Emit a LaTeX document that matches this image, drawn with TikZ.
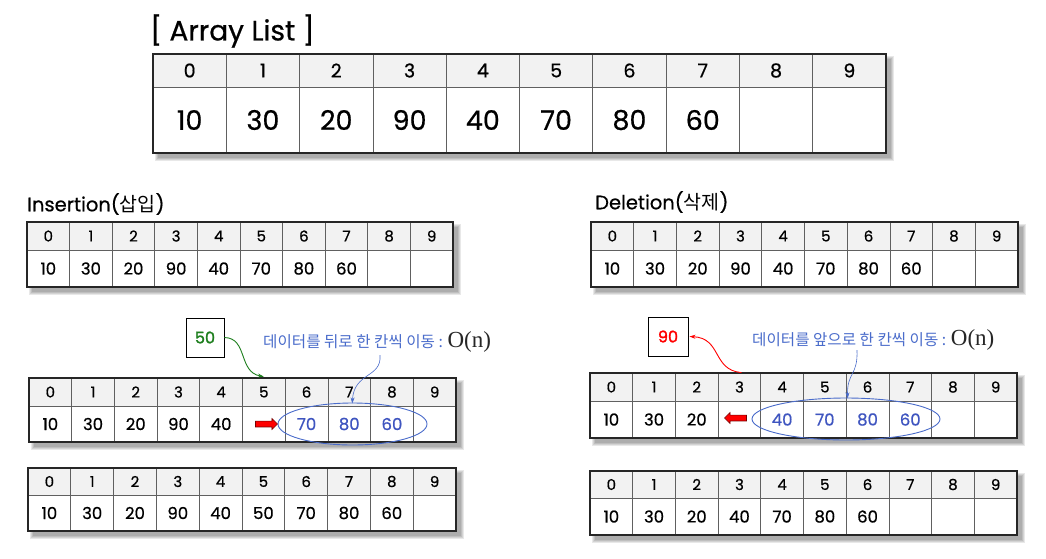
\documentclass[tikz,border=0pt]{standalone}
\usepackage{fontspec}
\setmainfont{Poppins}[FakeBold=0.6]
\newfontfamily\kr{Noto Sans CJK KR}
\newfontfamily\serif{Liberation Serif}
\usetikzlibrary{shapes.geometric,shapes.arrows,calc,arrows.meta}
\definecolor{hdr}{HTML}{F2F2F2}
\definecolor{gridc}{HTML}{606060}
\definecolor{lblue}{HTML}{4A6CCB}
\definecolor{vblue}{HTML}{3F55C0}
\definecolor{eblue}{HTML}{4A6CCB}
\definecolor{vgreen}{HTML}{1E7F1E}
\newcommand\myfs[1]{\fontsize{#1}{#1}\selectfont}
\tikzset{
  hcell/.style={draw=gridc, line width=0.8pt, fill=hdr, inner sep=0pt, text=black},
  dcell/.style={draw=gridc, line width=0.8pt, fill=white, inner sep=0pt, text=black},
  border/.style={draw=black!85, line width=1.2pt},
  valbox/.style={draw=black, line width=0.9pt, fill=white, inner sep=0pt, font=\myfs{16}\addfontfeatures{FakeBold=1.6}},
  title/.style={anchor=west, inner sep=0pt, text=black},
  lbl/.style={anchor=west, inner sep=0pt, text=lblue, font=\kr\myfs{15.6}},
  curv/.style={line width=0.9pt, -{Stealth[length=6pt,width=4pt]}},
  blockarrow/.style={single arrow, fill=red, draw=red!45!black, line width=0.6pt, minimum height=22pt, minimum width=11pt, single arrow head extend=2.5pt, inner sep=2.6pt},
  oval/.style={ellipse, draw=eblue, line width=0.9pt, inner sep=0pt}
}
% #1 name, #2 x0, #3 y0, #4 cell width, #5 header h, #6 data h, #7 values, #8 header font, #9 data font
\newcommand\arrtab[9]{%
  \pgfmathsetmacro\xend{#2+10*#4}%
  \pgfmathsetmacro\yend{#3+#5+#6}%
  \foreach \s in {0,...,3}{\fill[black,opacity=0.09] ({#2+5-\s},{#3+5-\s}) rectangle ({\xend+5+\s},{\yend+5+\s});}
  \foreach \i in {0,...,9}{%
    \node[hcell, minimum width=#4, minimum height=#5, font=#8] (#1h\i) at ({#2+(\i+0.5)*#4},{#3+#5/2}) {\i};
  }
  \foreach \v [count=\c from 0] in {#7}{%
    \node[dcell, minimum width=#4, minimum height=#6, font=#9] (#1d\c) at ({#2+(\c+0.5)*#4},{#3+#5+#6/2}) {\v};
  }
  \draw[border] (#2,#3) rectangle (\xend,\yend);
}
\begin{document}
\begin{tikzpicture}[x=1pt,y=-1pt]
\useasboundingbox[fill=white] (0,0) rectangle (1046,558);

% main table
\node[title, font=\myfs{28}] (ttl) at (150,31) {[ Array List ]};
\arrtab{m}{153}{54}{73.3}{33}{66}{10,30,20,90,40,70,80,60,{},{}}{\myfs{19}}{\myfs{27}}

% Insertion
\node[title, font=\myfs{19.5}] (tins) at (27,204) {Insertion({\kr 삽입})};
\arrtab{ia}{27}{222}{42.6}{28}{37}{10,30,20,90,40,70,80,60,{},{}}{\myfs{15}}{\myfs{16.5}}
\arrtab{ib}{29}{378}{42.7}{28}{36}{10,30,20,90,40,{},{\color{vblue}70},{\color{vblue}80},{\color{vblue}60},{}}{\myfs{15}}{\myfs{16.5}}
\arrtab{ic}{28}{468}{42.8}{27}{36}{10,30,20,90,40,50,70,80,60,{}}{\myfs{15}}{\myfs{16.5}}

\node[valbox, text=vgreen, minimum width=38, minimum height=39] (b50) at (205,337.5) {50};
\node[lbl] (lab1) at (263,342) {데이터를 뒤로 한 칸씩 이동 : {\serif\myfs{23}\color{black!85}O(n)}};
\coordinate (l1s) at (380,355);
\node[oval, minimum width=149, minimum height=42] (e1) at (352.5,424) {};
\node[blockarrow] (ra1) at (265,424) {};
\draw[curv, draw=vgreen] (b50.east) .. controls (248,338) and (238,372) .. ($(ibh5.north)+(0,-1)$);
\draw[curv, draw=eblue, line width=0.6pt] (l1s) .. controls (382,378) and (354,372) .. ($(ibh7.south)+(3,-3)$);

% Deletion
\node[title, font=\myfs{19.5}] (tdel) at (595,202) {Deletion({\kr 삭제})};
\arrtab{da}{591}{222}{42.7}{28}{37}{10,30,20,90,40,70,80,60,{},{}}{\myfs{15}}{\myfs{16.5}}
\arrtab{db}{590}{373}{42.7}{28}{37}{10,30,20,{},{\color{vblue}40},{\color{vblue}70},{\color{vblue}80},{\color{vblue}60},{},{}}{\myfs{15}}{\myfs{16.5}}
\arrtab{dc}{590}{471}{42.7}{27}{37}{10,30,20,40,70,80,60,{},{},{}}{\myfs{15}}{\myfs{16.5}}

\node[valbox, text=red, minimum width=40, minimum height=39] (b90) at (668,336.5) {90};
\node[lbl] (lab2) at (752,340) {데이터를 앞으로 한 칸씩 이동 : {\serif\myfs{23}\color{black!85}O(n)}};
\coordinate (l2s) at (857,350);
\node[oval, minimum width=188, minimum height=42] (e2) at (846,419) {};
\node[blockarrow, shape border rotate=180] (ra2) at (737,418) {};
\draw[curv, draw=red] ($(dbh3.north)+(2,0)$) .. controls (712,370) and (722,338) .. ($(b90.east)+(1,0)$);
\draw[curv, draw=eblue, line width=0.6pt] (l2s) .. controls (858,376) and (847,372) .. ($(dbh5.south east)+(1,-3)$);
\end{tikzpicture}
\end{document}
